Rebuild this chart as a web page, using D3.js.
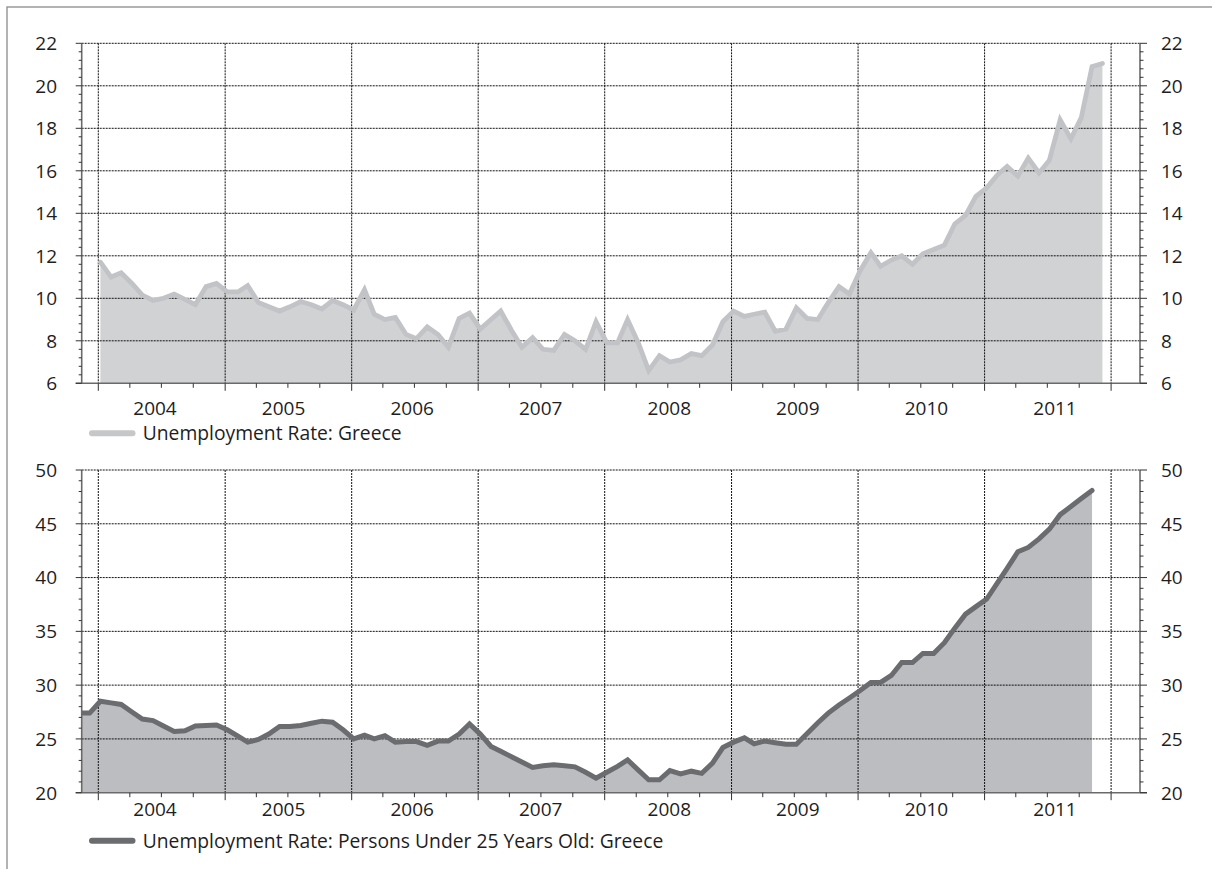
<!DOCTYPE html>
<html><head><meta charset="utf-8">
<script src="https://cdn.jsdelivr.net/npm/d3@7"></script>
<style>
body{margin:0;background:#fff;}
svg{display:block;}
text{font-family:"Open Sans","Noto Sans",sans-serif;fill:#1e1e1e;}
</style></head><body>
<svg id="c" width="1212" height="869"></svg>
<script>
// ---------------- data ----------------
const years = [2004, 2005, 2006, 2007, 2008, 2009, 2010, 2011];
// Monthly unemployment rate, Greece, from Jan 2004
const topStart = [2004, 0];
const topValues = [
  11.7, 11.0, 11.2, 10.7, 10.15, 9.9, 10.0, 10.2, 9.95, 9.7, 10.55, 10.7,
  10.3, 10.3, 10.6, 9.8, 9.6, 9.4, 9.6, 9.85, 9.7, 9.5, 9.9, 9.7,
  9.45, 10.4, 9.25, 9.0, 9.1, 8.3, 8.1, 8.65, 8.3, 7.7, 9.05, 9.3,
  8.55, 9.0, 9.4, 8.5, 7.7, 8.15, 7.6, 7.55, 8.3, 8.0, 7.6, 8.9,
  7.9, 7.9, 9.0, 7.9, 6.6, 7.3, 7.0, 7.1, 7.4, 7.3, 7.8, 8.9,
  9.4, 9.15, 9.25, 9.35, 8.45, 8.55, 9.55, 9.05, 9.0, 9.8, 10.55, 10.2,
  11.3, 12.15, 11.5, 11.8, 12.0, 11.6, 12.1, 12.3, 12.5, 13.5, 13.9, 14.8,
  15.2, 15.8, 16.2, 15.75, 16.6, 15.9, 16.5, 18.4, 17.5, 18.5, 20.9, 21.05
];
// Monthly unemployment rate, persons under 25, Greece, from Nov 2003
const bottomStart = [2003, 10];
const bottomValues = [
  27.4, 27.4,
  28.5, 28.35, 28.2, 27.5, 26.85, 26.7, 26.2, 25.7, 25.75, 26.2, 26.25, 26.3,
  25.85, 25.25, 24.7, 24.95, 25.45, 26.15, 26.15, 26.25, 26.45, 26.65, 26.55, 25.85,
  25.0, 25.35, 25.0, 25.3, 24.7, 24.75, 24.75, 24.4, 24.8, 24.8, 25.45, 26.4,
  25.45, 24.3, 23.85, 23.35, 22.85, 22.35, 22.5, 22.6, 22.5, 22.4, 21.9, 21.35,
  21.9, 22.45, 23.05, 22.1, 21.2, 21.2, 22.05, 21.75, 22.0, 21.8, 22.75, 24.2,
  24.7, 25.1, 24.55, 24.8, 24.65, 24.5, 24.5, 25.5, 26.5, 27.4, 28.15, 28.8,
  29.5, 30.25, 30.25, 30.9, 32.1, 32.1, 32.95, 32.95, 33.95, 35.3, 36.6, 37.3,
  38.0, 39.5, 40.85, 42.4, 42.8, 43.6, 44.5, 45.85, 46.6, 47.35, 48.1
];
const topTicks = [6, 8, 10, 12, 14, 16, 18, 20, 22];
const bottomTicks = [20, 25, 30, 35, 40, 45, 50];
const topLegend = "Unemployment Rate: Greece";
const bottomLegend = "Unemployment Rate: Persons Under 25 Years Old: Greece";

// ---------------- layout ----------------
const svg = d3.select("#c");
const L = 81.7, R = 1140;
const x = d3.scaleTime()
  .domain([new Date(2004, 0, 1), new Date(2012, 0, 1)])
  .range([98.3, 1111.1]);
// year labels sit on their own evenly spaced positions
const labelX = d3.scaleLinear().domain([2004, 2011]).range([155, 1055]);

svg.append("rect").attr("x", 7).attr("y", 7).attr("width", 1300).attr("height", 1000)
  .attr("fill", "none").attr("stroke", "#8a8a8a").attr("stroke-width", 1.3);

function toSeries(start, vals) {
  return vals.map((v, i) => ({ date: new Date(start[0], start[1] + i, 7), v }));
}

function panel(cfg) {
  const y = d3.scaleLinear().domain([cfg.ticks[0], cfg.ticks[cfg.ticks.length - 1]])
    .range([cfg.bottom, cfg.top]);
  const g = svg.append("g");
  const id = "clip" + cfg.id;
  g.append("clipPath").attr("id", id).append("rect")
    .attr("x", L).attr("y", cfg.top - 10).attr("width", R - L).attr("height", cfg.bottom - cfg.top + 10);
  const data = toSeries(cfg.start, cfg.values);

  g.append("path").datum(data).attr("clip-path", `url(#${id})`)
    .attr("fill", cfg.fill)
    .attr("d", d3.area().x(d => x(d.date)).y0(y(cfg.ticks[0])).y1(d => y(d.v)));

  // grid
  const grid = g.append("g").attr("stroke", "#111").attr("stroke-width", 1)
    .attr("stroke-dasharray", "2,1").attr("fill", "none");
  grid.selectAll("line.h").data(cfg.ticks.slice(1)).join("line")
    .attr("x1", L).attr("x2", R).attr("y1", d => y(d)).attr("y2", d => y(d));
  const yearStarts = d3.timeYear.range(new Date(2004, 0, 1), new Date(2012, 0, 2));
  grid.selectAll("line.v").data(yearStarts).join("line")
    .attr("x1", d => x(d)).attr("x2", d => x(d)).attr("y1", cfg.top).attr("y2", cfg.bottom);

  g.append("path").datum(data).attr("clip-path", `url(#${id})`)
    .attr("fill", "none").attr("stroke", cfg.stroke).attr("stroke-width", cfg.lw)
    .attr("stroke-linejoin", "miter").attr("stroke-linecap", "round")
    .attr("d", d3.line().x(d => x(d.date)).y(d => y(d.v)));

  // axes
  const ax = g.append("g").attr("stroke", "#6a6a6a").attr("fill", "none");
  ax.append("line").attr("x1", L).attr("x2", L).attr("y1", cfg.top).attr("y2", cfg.bottom).attr("stroke-width", 1.6);
  ax.append("line").attr("x1", R).attr("x2", R).attr("y1", cfg.top).attr("y2", cfg.bottom).attr("stroke-width", 1.6);
  ax.append("line").attr("x1", L - 6).attr("x2", R + 7).attr("y1", cfg.bottom).attr("y2", cfg.bottom).attr("stroke-width", 1.6);

  const lo = cfg.ticks[0], hi = cfg.ticks[cfg.ticks.length - 1];
  const minor = d3.range(lo, hi + 1e-9, cfg.minorStep).filter(v => !cfg.ticks.some(t => Math.abs(t - v) < 1e-6));
  const tk = g.append("g").attr("stroke", "#333").attr("stroke-width", 1);
  tk.selectAll("line.ym").data(cfg.ticks).join("line")
    .attr("x1", L - 6).attr("x2", L).attr("y1", d => y(d)).attr("y2", d => y(d));
  tk.selectAll("line.yn").data(minor).join("line")
    .attr("x1", L - 3).attr("x2", L).attr("y1", d => y(d)).attr("y2", d => y(d));
  tk.selectAll("line.rm").data(cfg.ticks).join("line")
    .attr("x1", R).attr("x2", R + 7).attr("y1", d => y(d)).attr("y2", d => y(d));
  tk.selectAll("line.rn").data(minor).join("line")
    .attr("x1", R).attr("x2", R + 3.5).attr("y1", d => y(d)).attr("y2", d => y(d));
  const quarters = d3.timeMonth.every(3).range(new Date(2004, 0, 1), new Date(2012, 0, 2));
  tk.selectAll("line.xq").data(quarters).join("line")
    .attr("x1", d => x(d)).attr("x2", d => x(d)).attr("y1", cfg.bottom)
    .attr("y2", d => cfg.bottom + (d.getMonth() === 0 ? 7.5 : 4.5));

  // labels
  const fs = 19;
  g.selectAll("text.yl").data(cfg.ticks).join("text")
    .attr("x", 57).attr("y", d => y(d)).attr("dy", "0.36em").attr("text-anchor", "end")
    .attr("font-size", fs).text(d => d);
  g.selectAll("text.yr").data(cfg.ticks).join("text")
    .attr("x", 1161).attr("y", d => y(d)).attr("dy", "0.36em").attr("text-anchor", "start")
    .attr("font-size", fs).text(d => d);
  g.selectAll("text.xl").data(years).join("text")
    .attr("x", d => labelX(d)).attr("y", cfg.labelY).attr("text-anchor", "middle")
    .attr("font-size", fs).text(d => d);

  // legend
  g.append("line").attr("x1", 92).attr("x2", 132.5).attr("y1", cfg.legendY).attr("y2", cfg.legendY)
    .attr("stroke", cfg.legendColor).attr("stroke-width", 6).attr("stroke-linecap", "round");
  g.append("text").attr("x", 142.7).attr("y", cfg.legendY + 7).attr("font-size", fs + 0.3).text(cfg.legend);
}

panel({ id: "a", top: 43.3, bottom: 383.3, ticks: topTicks, minorStep: 0.4,
  start: topStart, values: topValues, fill: "#d1d2d4", stroke: "#c2c3c6", lw: 4.8,
  labelY: 414.5, legendY: 433.3, legendColor: "#c6c7c9", legend: topLegend });
panel({ id: "b", top: 470, bottom: 792.7, ticks: bottomTicks, minorStep: 1,
  start: bottomStart, values: bottomValues, fill: "#bcbdc0", stroke: "#6b6c6f", lw: 5,
  labelY: 816, legendY: 840.7, legendColor: "#6b6c6f", legend: bottomLegend });
</script>
</body></html>
